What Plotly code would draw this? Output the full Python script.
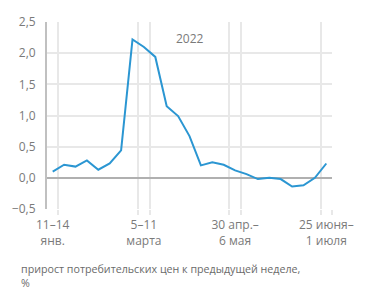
import plotly.graph_objects as go

values = [0.10, 0.21, 0.18, 0.28, 0.13, 0.23, 0.44, 2.22, 2.10, 1.94, 1.15, 0.99,
          0.67, 0.20, 0.25, 0.21, 0.12, 0.06, -0.02, 0.00, -0.02, -0.14, -0.12,
          0.00, 0.23]
label_idx = [0, 8, 16, 24]
label_text = ["11–14<br>янв.", "5–11<br>марта", "30 апр.–<br>6 мая", "25 июня–<br>1 июля"]
y_ticks = [-0.5, 0.0, 0.5, 1.0, 1.5, 2.0, 2.5]
title_text = "2022"
caption_lines = ["прирост потребительских цен к предыдущей неделе,", "%"]

x = list(range(len(values)))
grid_x = sorted(set(v for i in label_idx for v in (i - 0.5, i + 0.5) if v > -0.5))

grey = "#7a7a7a"
fig = go.Figure()
fig.add_trace(go.Scatter(x=x, y=values, mode="lines",
                         line=dict(color="#2b96d2", width=2), hoverinfo="skip"))

annotations = [
    dict(text=title_text, x=12, y=2.24, xref="x", yref="y", showarrow=False,
         font=dict(size=12, color=grey)),
    dict(text="<br>".join(caption_lines), x=-28/285, y=-0.272,
         xref="paper", yref="paper", xanchor="left", yanchor="top",
         align="left", showarrow=False, font=dict(size=10.7, color="#6a6a6a")),
]

fig.update_layout(
    width=371, height=301,
    margin=dict(l=47, r=39, t=22, b=92),
    paper_bgcolor="white", plot_bgcolor="white",
    separators=", ",
    showlegend=False,
    font=dict(family="Open Sans", size=12, color=grey),
    xaxis=dict(range=[-0.5, len(values) - 0.5], tickvals=label_idx, ticktext=label_text,
               showgrid=False, zeroline=False, ticks="", ticklabelstandoff=7,
               tickfont=dict(size=12, color=grey),
               minor=dict(tickvals=grid_x, showgrid=True, gridcolor="#e8e8e8",
                          gridwidth=1.5, ticks="outside", ticklen=5,
                          tickcolor="#e8e8e8", tickwidth=1.5)),
    yaxis=dict(range=[-0.5, 2.5], tickvals=y_ticks, tickformat=".1f",
               showgrid=True, gridcolor="#e8e8e8", gridwidth=1.5,
               zeroline=True, zerolinecolor="#b0b0b0", zerolinewidth=1.5,
               showline=True, linecolor="#c0c0c0", linewidth=2,
               ticks="", ticklabelstandoff=7,
               tickfont=dict(size=12, color=grey)),
    annotations=annotations,
)

fig.write_html("out.html")
